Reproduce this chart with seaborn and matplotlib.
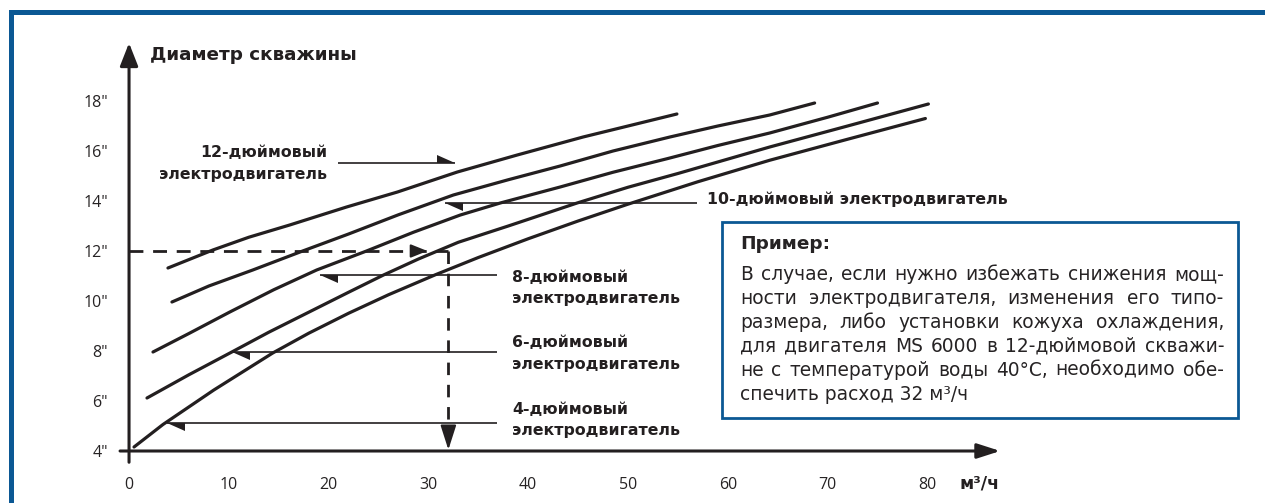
import matplotlib
matplotlib.use("Agg")
import matplotlib.pyplot as plt
import numpy as np
import pandas as pd
import seaborn as sns
from matplotlib.patches import Rectangle

# Minimum borehole diameter (inches) against flow rate (m³/h), one curve per motor size
flow_12 = [3.9, 8.4, 12.0, 16.1, 21.8, 26.9, 32.9, 38.9, 45.5, 50.0, 54.9]
diam_12 = [11.32, 12.04, 12.55, 13.04, 13.76, 14.36, 15.16, 15.84, 16.56, 17.0, 17.48]
flow_10 = [4.3, 8.0, 12.4, 17.4, 22.0, 27.0, 32.5, 38.0, 43.2, 48.5, 54.2, 59.0, 64.2, 68.7]
diam_10 = [9.96, 10.6, 11.24, 12.0, 12.68, 13.45, 14.24, 14.85, 15.4, 16.0, 16.56, 17.0, 17.44, 17.92]
flow_8 = [2.4, 6.0, 10.1, 14.5, 18.8, 23.8, 28.5, 33.2, 37.2, 43.2, 48.5, 54.0, 59.0, 64.2, 70.0, 75.0]
diam_8 = [7.96, 8.7, 9.56, 10.45, 11.24, 12.0, 12.75, 13.44, 13.92, 14.56, 15.15, 15.7, 16.22, 16.72, 17.35, 17.92]
flow_6 = [1.8, 6.0, 10.3, 14.0, 18.0, 22.0, 25.5, 29.0, 33.0, 38.0, 44.9, 50.0, 55.0, 64.2, 72.0, 80.1]
diam_6 = [6.12, 7.05, 7.96, 8.75, 9.55, 10.35, 11.04, 11.68, 12.35, 13.0, 13.92, 14.55, 15.1, 16.16, 17.0, 17.88]
flow_4 = [0.5, 3.4, 8.5, 14.4, 18.0, 22.0, 26.0, 30.7, 35.0, 40.0, 45.0, 49.9, 57.0, 64.2, 72.0, 79.8]
diam_4 = [4.16, 5.06, 6.44, 7.92, 8.71, 9.51, 10.25, 11.05, 11.74, 12.49, 13.2, 13.86, 14.77, 15.63, 16.47, 17.3]

motors = ["12", "10", "8", "6", "4"]
motor_labels = [
    "12-дюймовый\nэлектродвигатель",
    "10-дюймовый электродвигатель",
    "8-дюймовый\nэлектродвигатель",
    "6-дюймовый\nэлектродвигатель",
    "4-дюймовый\nэлектродвигатель",
]
# point on each curve that its label's pointer touches (flow, diameter)
label_tip_flow = [32.7, 31.7, 19.1, 10.3, 3.8]
label_tip_diam = [15.52, 13.92, 11.04, 7.96, 5.12]
# flow where each pointer line starts, next to its label
label_tail_flow = [20.9, 56.9, 36.9, 36.9, 36.9]

flow_ticks = [0, 10, 20, 30, 40, 50, 60, 70, 80]
diam_ticks = [4, 6, 8, 10, 12, 14, 16, 18]
diam_tick_labels = ['4"', '6"', '8"', '10"', '12"', '14"', '16"', '18"']

example_flow = 32
example_diam = 12

y_title = "Диаметр скважины"
x_unit = "м³/ч"
note_title = "Пример:"
note_lines = [
    "В случае, если нужно избежать снижения мощ-",
    "ности электродвигателя, изменения его типо-",
    "размера, либо установки кожуха охлаждения,",
    "для двигателя MS 6000 в 12-дюймовой скважи-",
    "не с температурой воды 40°C, необходимо обе-",
    "спечить расход 32 м³/ч",
]

curves = pd.concat([
    pd.DataFrame({"motor": m, "flow": f, "diam": d})
    for m, f, d in zip(motors,
                       [flow_12, flow_10, flow_8, flow_6, flow_4],
                       [diam_12, diam_10, diam_8, diam_6, diam_4])
], ignore_index=True)

INK = "#231f20"
TXT = "#262324"
BLUE = "#0b5894"
W, H = 1265, 503
BOLD_FAMILY = ["DejaVu Sans"]
BODY_FAMILY = ["DejaVu Sans"]

sns.set_style("white")
plt.rcParams["font.family"] = ["Liberation Sans", "DejaVu Sans"]

fig = plt.figure(figsize=(W / 100, H / 100), dpi=100)
fig.patch.set_facecolor("white")
ax = fig.add_axes([0, 0, 1, 1])
XLIM = (-12.93, 113.83)
YLIM = (1.92, 22.04)
ax.set_xlim(*XLIM)
ax.set_ylim(*YLIM)
ax.patch.set_alpha(0)
# data units per screen pixel
DX = (XLIM[1] - XLIM[0]) / W
DY = (YLIM[1] - YLIM[0]) / H


def fp(x, y):
    """pixel position (from top-left) to figure fraction"""
    return x / W, 1 - y / H


sns.lineplot(data=curves, x="flow", y="diam", hue="motor", hue_order=motors,
             estimator=None, sort=False, palette=[INK] * 5, legend=False,
             linewidth=2.3, ax=ax)
for line in ax.lines:
    line.set_solid_capstyle("round")
    line.set_solid_joinstyle("round")

# axes with arrow ends
for s in ["top", "right", "left", "bottom"]:
    ax.spines[s].set_visible(False)
ax.spines["left"].set_position(("data", 0))
ax.spines["bottom"].set_position(("data", 4))
ax.annotate("", xy=(0, 20.32), xytext=(0, 3.55),
            arrowprops=dict(arrowstyle="-|>,head_length=14,head_width=5.5",
                            mutation_scale=1, lw=2.2, color=INK,
                            shrinkA=0, shrinkB=0))
ax.annotate("", xy=(87.3, 4), xytext=(-0.9, 4),
            arrowprops=dict(arrowstyle="-|>,head_length=14,head_width=4.5",
                            mutation_scale=1, lw=2.2, color=INK,
                            shrinkA=0, shrinkB=0))

ax.set_xticks(flow_ticks)
ax.set_xticklabels([str(t) for t in flow_ticks])
ax.set_yticks(diam_ticks)
ax.set_yticklabels(diam_tick_labels)
ax.tick_params(axis="y", direction="inout", length=10, width=1.6, color=INK,
               pad=10, labelsize=11.5, labelcolor=TXT)
ax.tick_params(axis="x", direction="inout", length=7, width=1.6, color=INK,
               pad=15, labelsize=11.5, labelcolor=TXT)
for lab in ax.get_xticklabels() + ax.get_yticklabels():
    lab.set_family(["Open Sans", "DejaVu Sans"])
ax.set_xlabel("")
ax.set_ylabel("")

# example reading: 12" borehole -> 32 m³/h
ax.plot([0, example_flow], [example_diam, example_diam], color=INK, lw=2.0,
        ls=(0, (5, 3.5)))
ax.annotate("", xy=(example_flow - 2.1, example_diam),
            xytext=(example_flow - 3.2, example_diam),
            arrowprops=dict(arrowstyle="-|>,head_length=10,head_width=4",
                            mutation_scale=1, lw=1.5, color=INK,
                            shrinkA=0, shrinkB=0))
ax.plot([example_flow, example_flow], [example_diam, 4.9], color=INK, lw=2.0,
        ls=(0, (4.5, 3.5)))
ax.annotate("", xy=(example_flow, 4.05), xytext=(example_flow, 4.9),
            arrowprops=dict(arrowstyle="-|>,head_length=15,head_width=4.8",
                            mutation_scale=1, lw=1.5, color=INK,
                            shrinkA=0, shrinkB=0))


def pointer(x_tail, x_tip, y, head_px=18, barb_px=8):
    """straight pointer with a one-sided (half) arrowhead"""
    ax.plot([x_tail, x_tip], [y, y], color=INK, lw=1.2, solid_capstyle="butt")
    direction = 1 if x_tip > x_tail else -1
    back = x_tip - direction * head_px * DX
    barb = y + direction * barb_px * DY
    ax.fill([x_tip, back, back], [y, y, barb], color=INK, lw=0)


# motor labels with pointers
label_px = [(327, 157, "right"), (707, 204, "left"), (512, 282, "left"),
            (512, 347, "left"), (512, 414, "left")]
for lab, (lx, ly, ha), tail, tf, td in zip(motor_labels, label_px,
                                           label_tail_flow, label_tip_flow,
                                           label_tip_diam):
    pointer(tail, tf, td)
    for i, part in enumerate(lab.split("\n")):
        fig.text(*fp(lx, ly + 21.5 * i), part, ha=ha, va="baseline",
                 fontsize=11.3, fontweight="bold", color=INK,
                 family=BOLD_FAMILY)

fig.text(*fp(150, 60), y_title, ha="left", va="baseline", fontsize=13.2,
         fontweight="bold", color=INK, family=BOLD_FAMILY)
fig.text(*fp(960, 488), x_unit, ha="left", va="baseline", fontsize=12.5,
         fontweight="bold", color=INK, family=BOLD_FAMILY)

# note box
fig.patches.append(Rectangle(fp(722, 418), (1238 - 722) / W, (418 - 222) / H,
                             transform=fig.transFigure, fill=False,
                             edgecolor=BLUE, linewidth=2.0))
fig.text(*fp(740, 249), note_title, ha="left", va="baseline", fontsize=13.3,
         fontweight="bold", color=TXT, family=BODY_FAMILY)

fig.canvas.draw()
renderer = fig.canvas.get_renderer()
x_left, x_right = 740, 1224
BODY_SIZE = 13.4
for i, line in enumerate(note_lines):
    yb = 280 + 24 * i
    if i == len(note_lines) - 1:
        fig.text(*fp(x_left, yb), line, ha="left", va="baseline",
                 fontsize=BODY_SIZE, color=TXT, family=BODY_FAMILY)
        continue
    words = line.split(" ")
    objs = [fig.text(0, 0, w, ha="left", va="baseline", fontsize=BODY_SIZE,
                     color=TXT, family=BODY_FAMILY) for w in words]
    widths = [o.get_window_extent(renderer).width for o in objs]
    gap = (x_right - x_left - sum(widths)) / (len(words) - 1)
    x = x_left
    for o, w in zip(objs, widths):
        o.set_position(fp(x, yb))
        x += w + gap

# frame bands along the top and left edges
fig.patches.append(Rectangle(fp(9, 15), 1 - 9 / W, 5 / H,
                             transform=fig.transFigure, color=BLUE, lw=0))
fig.patches.append(Rectangle(fp(9, H), 5 / W, (H - 10) / H,
                             transform=fig.transFigure, color=BLUE, lw=0))

fig.savefig("out.png", dpi=100)
